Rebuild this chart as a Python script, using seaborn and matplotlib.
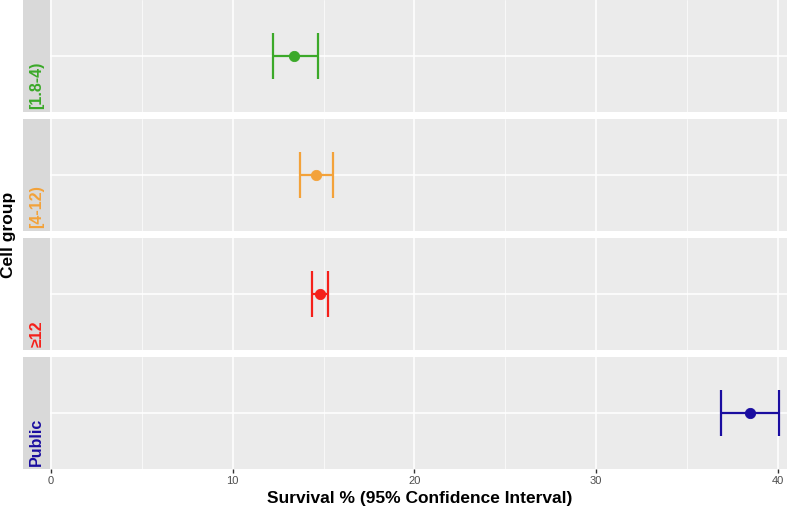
import pandas as pd
import seaborn as sns
import matplotlib.pyplot as plt
from matplotlib.patches import Rectangle
from matplotlib.ticker import MultipleLocator

# datos
grupos = ['[1.8-4)', '[4-12)', '≥12', 'Public']
supervivencia = [13.35, 14.6, 14.78, 38.46]
ic_inf = [12.2, 13.68, 14.34, 36.87]
ic_sup = [14.67, 15.5, 15.22, 40.05]
colores = ['#3BA929', '#F3A23A', '#F5201A', '#1A0DA0']

df = pd.DataFrame({'grupo': grupos, 'surv': supervivencia,
                   'lo': ic_inf, 'hi': ic_sup, 'y': [0] * len(grupos)})
paleta = dict(zip(grupos, colores))

sns.set_theme(style='darkgrid', rc={'axes.facecolor': '#EBEBEB',
                                    'grid.color': 'white',
                                    'xtick.bottom': True})
plt.rcParams['font.family'] = ['Liberation Sans', 'DejaVu Sans']

g = sns.FacetGrid(df, row='grupo', row_order=grupos, sharex=True, sharey=True,
                  height=1.12, aspect=7.37 / 1.12, despine=False)
g.figure.set_size_inches(7.87, 5.08)


def dibujar(data, color=None, **kws):
    ax = plt.gca()
    fila = data.iloc[0]
    c = paleta[fila['grupo']]
    ax.errorbar(fila['surv'], fila['y'],
                xerr=[[fila['surv'] - fila['lo']], [fila['hi'] - fila['surv']]],
                fmt='none', ecolor=c, elinewidth=1.6, capsize=16.5,
                capthick=1.6, zorder=3)
    sns.scatterplot(x=[fila['surv']], y=[fila['y']], color=c, s=55,
                    edgecolor=c, ax=ax, zorder=4)


g.map_dataframe(dibujar)
g.set_titles('')
g.set(xlim=(-0.05, 40.5), ylim=(-0.6, 0.6))

for ax, grp in zip(g.axes.flat, grupos):
    for s in ax.spines.values():
        s.set_visible(False)
    ax.set_yticks([0])
    ax.set_yticklabels([])
    ax.tick_params(axis='y', length=0)
    ax.xaxis.set_major_locator(MultipleLocator(10))
    ax.xaxis.set_minor_locator(MultipleLocator(5))
    ax.tick_params(axis='x', which='both', length=0)
    ax.grid(which='major', color='white', linewidth=1.1)
    ax.grid(which='minor', axis='x', color='white', linewidth=0.5)
    ax.set_ylabel('')
    ax.set_xlabel('')
    # tira lateral
    ax.add_patch(Rectangle((-0.036, 0), 0.036, 1, transform=ax.transAxes,
                           facecolor='#D9D9D9', edgecolor='none',
                           clip_on=False, zorder=0))
    ax.text(-0.018, 0.03, grp, transform=ax.transAxes, rotation=90,
            ha='center', va='bottom', color=paleta[grp], fontsize=11.5,
            fontweight='bold')

abajo = g.axes.flat[-1]
abajo.tick_params(axis='x', which='major', length=3, width=1,
                  color='#333333', labelsize=8, labelcolor='#4D4D4D', pad=2,
                  bottom=True, labelbottom=True)

g.figure.subplots_adjust(left=0.0635, right=1.0, top=1.0, bottom=0.077,
                         hspace=0.063)
g.figure.text(0.533, 0.018, 'Survival % (95% Confidence Interval)',
              ha='center', va='center', fontsize=12.5, fontweight='bold',
              color='black')
g.figure.text(0.011, 0.537, 'Cell group', rotation=90, ha='center',
              va='center', fontsize=12.5, fontweight='bold', color='black')

g.figure.savefig('out.png', dpi=100)
